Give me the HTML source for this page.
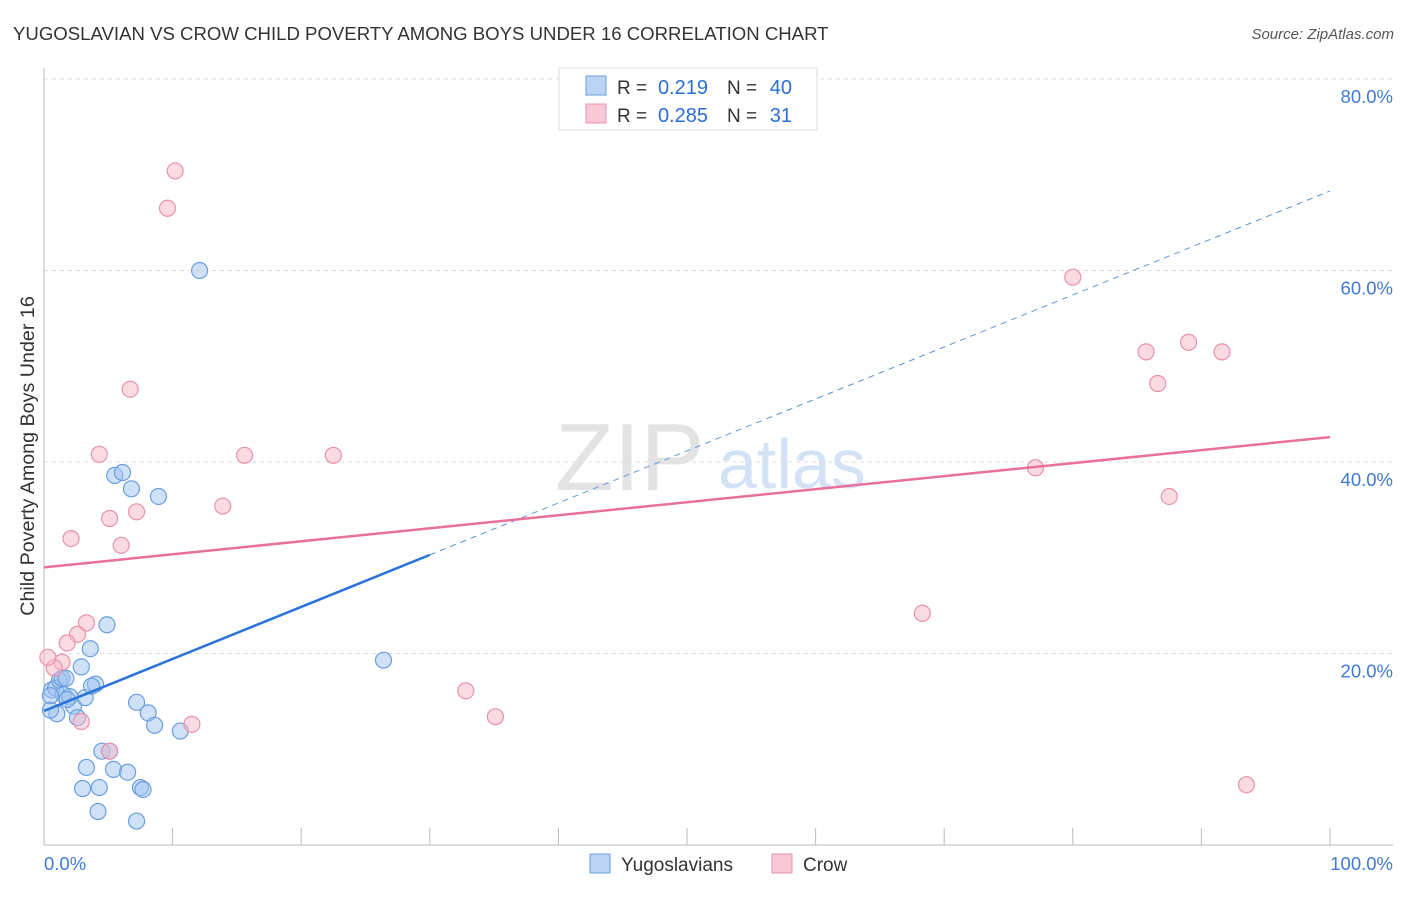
<!DOCTYPE html>
<html><head><meta charset="utf-8"><style>
body{margin:0;background:#fff;font-family:"Liberation Sans",sans-serif;}
svg text{font-family:"Liberation Sans",sans-serif;}
</style></head><body>
<svg id="c" width="1406" height="892"></svg>
<script>
const blueX=[0.6,1.0,0.5,0.9,1.2,1.4,1.7,1.5,2.0,2.3,2.9,3.2,2.6,3.6,4.0,3.7,4.9,5.5,6.1,6.8,8.9,7.2,8.1,8.6,10.6,4.5,5.1,3.3,5.4,6.5,3.0,4.3,7.5,7.7,4.2,7.2,12.1,26.4,0.5,1.8];
const blueY=[16.2,13.7,14.1,16.4,17.2,17.4,17.4,15.7,15.5,14.5,18.6,15.4,13.3,20.5,16.8,16.6,23.0,38.6,38.9,37.2,36.4,14.9,13.8,12.5,11.9,9.8,9.8,8.1,7.9,7.6,5.9,6.0,6.0,5.8,3.5,2.5,60.0,19.3,15.6,15.2];
const pinkX=[10.2,9.6,6.7,4.3,15.6,22.5,13.9,5.1,7.2,2.1,6.0,3.3,2.6,1.8,1.4,0.8,0.3,2.9,11.5,5.1,32.8,35.1,68.3,77.1,80.0,85.7,89.0,91.6,86.6,87.5,93.5];
const pinkY=[70.4,66.5,47.6,40.8,40.7,40.7,35.4,34.1,34.8,32.0,31.3,23.2,22.0,21.1,19.1,18.5,19.6,12.9,12.6,9.8,16.1,13.4,24.2,39.4,59.3,51.5,52.5,51.5,48.2,36.4,6.3];
const yTicks=[20,40,60,80];
const yTickLabels=["20.0%","40.0%","60.0%","80.0%"];
const xTicks=[0,10,20,30,40,50,60,70,80,90,100];
const blueLine=[0,14.0,30,30.3];
const blueDash=[30,30.3,100,68.3];
const pinkLine=[0,29.0,100,42.6];

const NS="http://www.w3.org/2000/svg";
const svg=document.getElementById('c');
const X=v=>44+v*12.86;
const Y=v=>845-v*9.575;
function mk(tag,attrs,parent){const e=document.createElementNS(NS,tag);for(const k in attrs)e.setAttribute(k,attrs[k]);(parent||svg).appendChild(e);return e;}

let t=mk('text',{x:13,y:40,'font-size':18.6,fill:'#333'});t.textContent="YUGOSLAVIAN VS CROW CHILD POVERTY AMONG BOYS UNDER 16 CORRELATION CHART";


t=mk('text',{x:1394,y:39,'font-size':15,fill:'#555','text-anchor':'end','font-style':'italic'});t.textContent="Source: ZipAtlas.com";



t=mk('text',{x:555,y:490,'font-size':96,fill:'#e3e3e3','font-family':'Liberation Serif'});t.textContent="ZIP";


t=mk('text',{x:718,y:488,'font-size':70,fill:'#d3e2f5'});t.textContent="atlas";



yTicks.forEach((v,i)=>{
 const l=mk('line',{x1:44,x2:1393,y1:Y(v),y2:Y(v),stroke:'#ddd','stroke-dasharray':'4,4'});
 
 
 const tx=mk('text',{x:1393,y:Y(v)+24,'font-size':18.5,fill:'#3f7ad6','text-anchor':'end'});tx.textContent=yTickLabels[i];
 
 
});
let ax=mk('line',{x1:44,x2:44,y1:68,y2:845,stroke:'#bbb'});


ax=mk('line',{x1:44,x2:1393,y1:845,y2:845,stroke:'#bbb'});


xTicks.forEach(v=>{
 const l=mk('line',{x1:X(v),x2:X(v),y1:828,y2:845,stroke:'#bbb'});
 
 
});
t=mk('text',{x:44,y:870,'font-size':18.5,fill:'#3f7ad6'});t.textContent="0.0%";


t=mk('text',{x:1393,y:870,'font-size':18.5,fill:'#3f7ad6','text-anchor':'end'});t.textContent="100.0%";


t=mk('text',{x:34,y:456,'font-size':19.7,fill:'#333','text-anchor':'middle',transform:'rotate(-90 34 456)'});t.textContent="Child Poverty Among Boys Under 16";



blueX.forEach((v,i)=>{
 const c=mk('circle',{cx:X(v),cy:Y(blueY[i]),r:8,fill:'rgba(160,195,238,0.5)',stroke:'#6a9ee0','stroke-width':1.2});
 
 
});
pinkX.forEach((v,i)=>{
 const c=mk('circle',{cx:X(v),cy:Y(pinkY[i]),r:8,fill:'rgba(246,184,201,0.5)',stroke:'#e891a9','stroke-width':1.2});
 
 
});
let ln=mk('line',{x1:X(blueLine[0]),y1:Y(blueLine[1]),x2:X(blueLine[2]),y2:Y(blueLine[3]),stroke:'#2a74d9','stroke-width':2.5});


ln=mk('line',{x1:X(blueDash[0]),y1:Y(blueDash[1]),x2:X(blueDash[2]),y2:Y(blueDash[3]),stroke:'#5b93dd','stroke-width':1,'stroke-dasharray':'6,5'});


ln=mk('line',{x1:X(pinkLine[0]),y1:Y(pinkLine[1]),x2:X(pinkLine[2]),y2:Y(pinkLine[3]),stroke:'#e8709a','stroke-width':2.5});



const g=mk('g',{});


mk('rect',{x:559,y:68,width:258,height:62,fill:'#fff',stroke:'#ddd'},g);
mk('rect',{x:586,y:76,width:20,height:19,fill:'#bcd4f4',stroke:'#6a9ee0'},g);
mk('rect',{x:586,y:104,width:20,height:19,fill:'#f9c8d6',stroke:'#e891a9'},g);
const rows=[[94,"0.219","40"],[122,"0.285","31"]];
rows.forEach(r=>{
 let a=mk('text',{x:617,y:r[0],'font-size':19,fill:'#333'},g);a.textContent="R = ";
 a=mk('text',{x:708,y:r[0],'font-size':20,fill:'#2a6fd6','text-anchor':'end'},g);a.textContent=r[1];
 a=mk('text',{x:727,y:r[0],'font-size':19,fill:'#333'},g);a.textContent="N = ";
 a=mk('text',{x:792,y:r[0],'font-size':20,fill:'#2a6fd6','text-anchor':'end'},g);a.textContent=r[2];
});

const b=mk('g',{});


mk('rect',{x:590,y:854,width:20,height:19,fill:'#bcd4f4',stroke:'#6a9ee0'},b);
let bt=mk('text',{x:621,y:871,'font-size':19,fill:'#333'},b);bt.textContent="Yugoslavians";
mk('rect',{x:772,y:854,width:20,height:19,fill:'#f9c8d6',stroke:'#e891a9'},b);
bt=mk('text',{x:803,y:871,'font-size':19,fill:'#333'},b);bt.textContent="Crow";
</script>
</body></html>
